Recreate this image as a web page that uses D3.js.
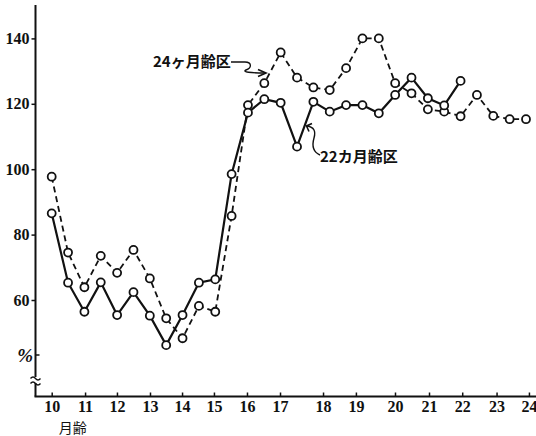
<!DOCTYPE html>
<html>
<head>
<meta charset="utf-8">
<script src="https://cdn.jsdelivr.net/npm/d3@7"></script>
<style>
    body { margin: 0; background: #fff; }
    .tick-label { font-family: "Liberation Serif", "DejaVu Serif", serif; font-weight: bold; font-size: 16px; fill: #111; }
    .jp-label { font-family: "Noto Sans CJK JP", sans-serif; font-weight: 700; font-size: 15px; fill: #111; }
</style>
</head>
<body>
<div id="chart"></div>
<script>

// DATA

// Values per sample (samples evenly spaced from 10 to 24 months)
var series24 = [ 97.7, 74.5, 63.9, 73.5, 68.3, 75.3, 66.6, 54.4, 48.3, 58.2,
                 56.4, 85.7, 119.6, 126.3, 135.7, 128.0, 125.0, 124.2, 130.9, 140.0,
                 140.0, 126.3, 123.2, 118.3, 117.6, 116.2, 122.7, 116.3, 115.3, 115.3 ];

var series22 = [ 86.5, 65.3, 56.4, 65.4, 55.4, 62.4, 55.2, 46.2, 55.4, 65.3,
                 66.3, 98.5, 117.3, 121.4, 120.3, 106.9, 120.6, 117.6, 119.6, 119.6,
                 117.1, 122.7, 128.0, 121.7, 119.5, 127.0 ];

// Month labels and where they sit along the sample index
var monthLabels = [ '10', '11', '12', '13', '14', '15', '16', '17',
                    '18', '19', '20', '21', '22', '23', '24' ];
var monthAt     = [ 0, 2.04, 3.99, 6.01, 7.97, 9.92, 11.94, 13.96,
                    16.59, 18.6, 20.99, 23.07, 25.1, 27.2, 29.18 ];

var yTicks = [ 60, 80, 100, 120, 140 ];

var seriesNames = [ '24ヶ月齢区', '22カ月齢区' ];


// SETUP

var width = 536;
var height = 436;

var svg = d3.select( '#chart' ).append( 'svg' )
                                .attr( 'width', width )
                                .attr( 'height', height );

var axisX0 = 35.5;
var axisY0 = 396.5;

var x = d3.scaleLinear()
            .domain( [0, 29] )
            .range( [51.7, 526] );

var y = d3.scaleLinear()
            .domain( [60, 140] )
            .range( [300, 38.4] );


// AXES

// Y axis line, with a break near the bottom
svg.append( 'line' )
    .attr( 'x1', axisX0 ).attr( 'x2', axisX0 )
    .attr( 'y1', 5 ).attr( 'y2', axisY0 )
    .attr( 'stroke', '#111' )
    .attr( 'stroke-width', 2 );

svg.append( 'rect' )
    .attr( 'x', axisX0 - 3 ).attr( 'y', 377 )
    .attr( 'width', 6 ).attr( 'height', 6 )
    .attr( 'fill', '#fff' );

[ 377.5, 382.5 ].forEach( function( yy ) {
    svg.append( 'path' )
        .attr( 'd', 'M' + ( axisX0 - 5 ) + ',' + ( yy + 1 ) +
                    ' q2.5,-3 5,0 t5,0' )
        .attr( 'fill', 'none' )
        .attr( 'stroke', '#111' )
        .attr( 'stroke-width', 1.4 );
} );

// X axis line
svg.append( 'line' )
    .attr( 'x1', axisX0 - 1 ).attr( 'x2', width )
    .attr( 'y1', axisY0 ).attr( 'y2', axisY0 )
    .attr( 'stroke', '#111' )
    .attr( 'stroke-width', 2 );

var yAxis = d3.axisLeft( y )
                .tickValues( yTicks )
                .tickSizeInner( 4 )
                .tickSizeOuter( 0 )
                .tickPadding( 2 );

var gy = svg.append( 'g' )
            .attr( 'transform', 'translate(' + axisX0 + ',0)' )
            .call( yAxis );
gy.select( '.domain' ).remove();
gy.selectAll( 'line' ).attr( 'stroke', '#111' ).attr( 'stroke-width', 1.5 );
gy.selectAll( 'text' )
    .attr( 'class', 'tick-label' )
    .attr( 'font-family', null )
    .attr( 'font-size', null );

var xAxis = d3.axisBottom( x )
                .tickValues( monthAt )
                .tickFormat( function( d, i ) { return monthLabels[i]; } )
                .tickSizeInner( -4 )
                .tickSizeOuter( 0 )
                .tickPadding( 4 );

var gx = svg.append( 'g' )
            .attr( 'transform', 'translate(0,' + axisY0 + ')' )
            .call( xAxis );
gx.select( '.domain' ).remove();
gx.selectAll( 'line' ).attr( 'stroke', '#111' ).attr( 'stroke-width', 1.5 );
gx.selectAll( 'text' )
    .attr( 'class', 'tick-label' )
    .attr( 'font-family', null )
    .attr( 'font-size', null );

// Unit mark on the y axis
svg.append( 'line' )
    .attr( 'x1', axisX0 ).attr( 'x2', axisX0 + 4 )
    .attr( 'y1', 355 ).attr( 'y2', 355 )
    .attr( 'stroke', '#111' )
    .attr( 'stroke-width', 1.5 );

svg.append( 'text' )
    .attr( 'class', 'tick-label' )
    .attr( 'x', 33 ).attr( 'y', 362 )
    .attr( 'text-anchor', 'end' )
    .style( 'font-style', 'italic' )
    .style( 'font-size', '19px' )
    .text( '%' );

svg.append( 'text' )
    .attr( 'class', 'jp-label' )
    .attr( 'x', x( 0 ) + 21 ).attr( 'y', 433 )
    .attr( 'text-anchor', 'middle' )
    .style( 'font-weight', 400 )
    .style( 'font-size', '14px' )
    .text( '月齢' );


// LINES

var line = d3.line()
                .x( function( d, i ) { return x( i ); } )
                .y( function( d ) { return y( d ); } );

svg.append( 'path' )
    .datum( series24 )
    .attr( 'd', line )
    .attr( 'fill', 'none' )
    .attr( 'stroke', '#111' )
    .attr( 'stroke-width', 1.8 )
    .attr( 'stroke-dasharray', '6,4' );

svg.append( 'path' )
    .datum( series22 )
    .attr( 'd', line )
    .attr( 'fill', 'none' )
    .attr( 'stroke', '#111' )
    .attr( 'stroke-width', 2.2 );

// Markers
[ series24, series22 ].forEach( function( s ) {
    svg.append( 'g' )
        .selectAll( 'circle' )
        .data( s )
        .enter().append( 'circle' )
            .attr( 'cx', function( d, i ) { return x( i ); } )
            .attr( 'cy', function( d ) { return y( d ); } )
            .attr( 'r', 4 )
            .attr( 'fill', '#fff' )
            .attr( 'stroke', '#111' )
            .attr( 'stroke-width', 1.8 );
} );


// ANNOTATIONS

function arrowPath( g, d, head ) {
    g.append( 'path' )
        .attr( 'd', d )
        .attr( 'fill', 'none' )
        .attr( 'stroke', '#111' )
        .attr( 'stroke-width', 1.4 );
    g.append( 'path' )
        .attr( 'd', head )
        .attr( 'fill', 'none' )
        .attr( 'stroke', '#111' )
        .attr( 'stroke-width', 1.6 );
}

var ann = svg.append( 'g' );

ann.append( 'text' )
    .attr( 'class', 'jp-label' )
    .attr( 'x', 153 ).attr( 'y', 67 )
    .text( seriesNames[0] );

arrowPath( ann,
    'M231,62 L245,62 C252,62 252,68 246,70 C242,72 250,73 265,73',
    'M258,69.5 L266,73 L258,76.5' );

ann.append( 'text' )
    .attr( 'class', 'jp-label' )
    .attr( 'x', 320 ).attr( 'y', 162 )
    .text( seriesNames[1] );

arrowPath( ann,
    'M320,155 C313,152 312,145 314,138 C316,131 314,127 307,126',
    'M312,123.5 L306.5,126 L309,131.5' );

</script>
</body>
</html>
